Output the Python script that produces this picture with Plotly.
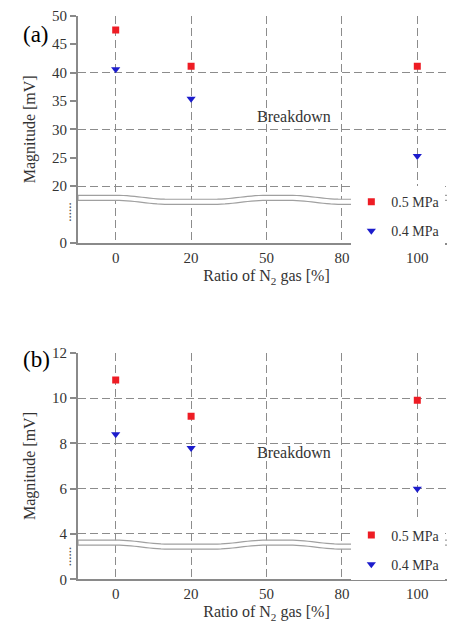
import numpy as np
import plotly.graph_objects as go

# ---------------- data ----------------
categories = ["0", "20", "50", "80", "100"]          # ratio of N2 gas [%]
ratio = [0, 20, 100]
a_05MPa = [47.5, 41.1, 41.1]     # panel (a), 0.5 MPa [mV]
a_04MPa = [40.6, 35.4, 25.3]     # panel (a), 0.4 MPa [mV]
b_05MPa = [10.8, 9.2, 9.9]       # panel (b), 0.5 MPa [mV]
b_04MPa = [8.4, 7.8, 6.0]        # panel (b), 0.4 MPa [mV]

# broken y axes: display value for the "0" tick sits just below the break
a_tickvals = [10, 20, 25, 30, 35, 40, 45, 50]
a_ticktext = ["0", "20", "25", "30", "35", "40", "45", "50"]
a_grid = [20, 30, 40]
b_tickvals = [2, 4, 6, 8, 10, 12]
b_ticktext = ["0", "4", "6", "8", "10", "12"]
b_grid = [4, 6, 8, 10]

FONT = "Liberation Serif, Times New Roman, serif"
RED = "#ee1c24"
BLUE = "#1c1ccc"
GRID = "#8c8c8c"
AX = "#8a8a8a"

xi = [categories.index(str(r)) for r in ratio]

fig = go.Figure()
fig.add_trace(go.Scatter(x=xi, y=a_05MPa, mode="markers", name="0.5 MPa",
                         marker=dict(symbol="square", size=7, color=RED),
                         xaxis="x", yaxis="y", legend="legend", legendgroup="a1"))
fig.add_trace(go.Scatter(x=xi, y=a_04MPa, mode="markers", name="0.4 MPa",
                         marker=dict(symbol="triangle-down", size=8, color=BLUE),
                         xaxis="x", yaxis="y", legend="legend", legendgroup="a2"))
fig.add_trace(go.Scatter(x=xi, y=b_05MPa, mode="markers", name="0.5 MPa",
                         marker=dict(symbol="square", size=7, color=RED),
                         xaxis="x2", yaxis="y2", legend="legend2", legendgroup="b1"))
fig.add_trace(go.Scatter(x=xi, y=b_04MPa, mode="markers", name="0.4 MPa",
                         marker=dict(symbol="triangle-down", size=8, color=BLUE),
                         xaxis="x2", yaxis="y2", legend="legend2", legendgroup="b2"))

tickfont = dict(family=FONT, size=15, color="#333")
titlefont = dict(family=FONT, size=16, color="#333")


def xaxis(anchor):
    return dict(anchor=anchor, domain=[0, 1], range=[-0.5, 4.5], automargin=False,
                tickvals=list(range(len(categories))), ticktext=categories,
                ticklabeloverflow="allow",
                showgrid=True, gridcolor=GRID, griddash="8px,4px", gridwidth=1,
                showline=True, linecolor=AX, linewidth=2, zeroline=False,
                ticks="", tickfont=tickfont,
                title=dict(text="Ratio of N<sub>2</sub> gas [%]", font=titlefont, standoff=5))


def yaxis(anchor, domain, rng, tv, tt, grid):
    return dict(anchor=anchor, domain=domain, range=rng, automargin=False,
                tickvals=tv, ticktext=tt, showgrid=False, zeroline=False,
                ticklabeloverflow="allow",
                showline=True, linecolor=AX, linewidth=2,
                ticks="outside", ticklen=6, tickcolor=AX, tickwidth=1.5,
                tickfont=tickfont,
                minor=dict(tickmode="array", tickvals=grid, showgrid=True,
                           gridcolor=GRID, griddash="8px,4px", gridwidth=1, ticks=""),
                title=dict(text="Magnitude [mV]", font=titlefont, standoff=12))


# page has an 8px body margin, so the figure is 8px smaller than the window
fig.update_layout(
    width=447, height=617,
    margin=dict(l=70, r=0, t=0, b=0, autoexpand=False),
    paper_bgcolor="white", plot_bgcolor="white",
    xaxis=xaxis("y"),
    yaxis=yaxis("x", [0.6191, 0.9875], [10, 50], a_tickvals, a_ticktext, a_grid),
    xaxis2=xaxis("y2"),
    yaxis2=yaxis("x2", [0.0741, 0.4413], [2, 12], b_tickvals, b_ticktext, b_grid),
    legend=dict(x=0.725, y=0.662, xanchor="left", yanchor="middle",
                bgcolor="white", font=dict(family=FONT, size=14, color="#333"),
                tracegroupgap=8, itemwidth=30),
    legend2=dict(x=0.725, y=0.1216, xanchor="left", yanchor="middle",
                 bgcolor="white", font=dict(family=FONT, size=14, color="#333"),
                 tracegroupgap=8, itemwidth=30),
    showlegend=True,
)


# ---- axis-break wave (decoration) ----
def wave_path(center, half, amp):
    knots = [(-0.6, 1), (0.0, 1), (0.7, -1), (1.3, -1), (2.0, 1), (2.3, 1),
             (3.0, -1), (3.4, -1), (4.1, 1), (4.6, 1)]
    xs = np.arange(-0.5, 4.501, 0.05)
    g = []
    for x in xs:
        for (x0, v0), (x1, v1) in zip(knots[:-1], knots[1:]):
            if x0 <= x <= x1:
                t = (x - x0) / (x1 - x0)
                s = (1 - np.cos(np.pi * t)) / 2
                g.append(v0 + (v1 - v0) * s)
                break
    g = np.array(g)
    top = center + amp * g + half
    bot = center + amp * g - half
    p = "M " + " L ".join(f"{x:.3f},{y:.4f}" for x, y in zip(xs, top))
    p += " L " + " L ".join(f"{x:.3f},{y:.4f}" for x, y in zip(xs[::-1], bot[::-1])) + " Z"
    return p


fig.add_shape(type="path", path=wave_path(17.6, 0.45, 0.35), xref="x", yref="y",
              line=dict(color="#a0a0a0", width=1.2), fillcolor="white", layer="between")
fig.add_shape(type="path", path=wave_path(3.53, 0.11, 0.088), xref="x2", yref="y2",
              line=dict(color="#a0a0a0", width=1.2), fillcolor="white", layer="between")

# ---- annotations ----
for lab, yp in [("(a)", 0.9806), ("(b)", 0.4311)]:
    fig.add_annotation(text=lab, xref="paper", yref="paper", x=-0.151, y=yp,
                       showarrow=False, font=dict(family=FONT, size=23, color="black"))
fig.add_annotation(text="......", xref="paper", yref="y", x=-0.0557, y=15.4,
                   textangle=-90, showarrow=False, font=dict(family=FONT, size=13, color="#555"))
fig.add_annotation(text="......", xref="paper", yref="y2", x=-0.0557, y=3.0,
                   textangle=-90, showarrow=False, font=dict(family=FONT, size=13, color="#555"))
fig.add_annotation(text="Breakdown", xref="x", yref="y", x=2.37, y=32.3,
                   showarrow=False, font=dict(family=FONT, size=16, color="#333"))
fig.add_annotation(text="Breakdown", xref="x2", yref="y2", x=2.37, y=7.6,
                   showarrow=False, font=dict(family=FONT, size=16, color="#333"))

fig.write_html("out.html")
